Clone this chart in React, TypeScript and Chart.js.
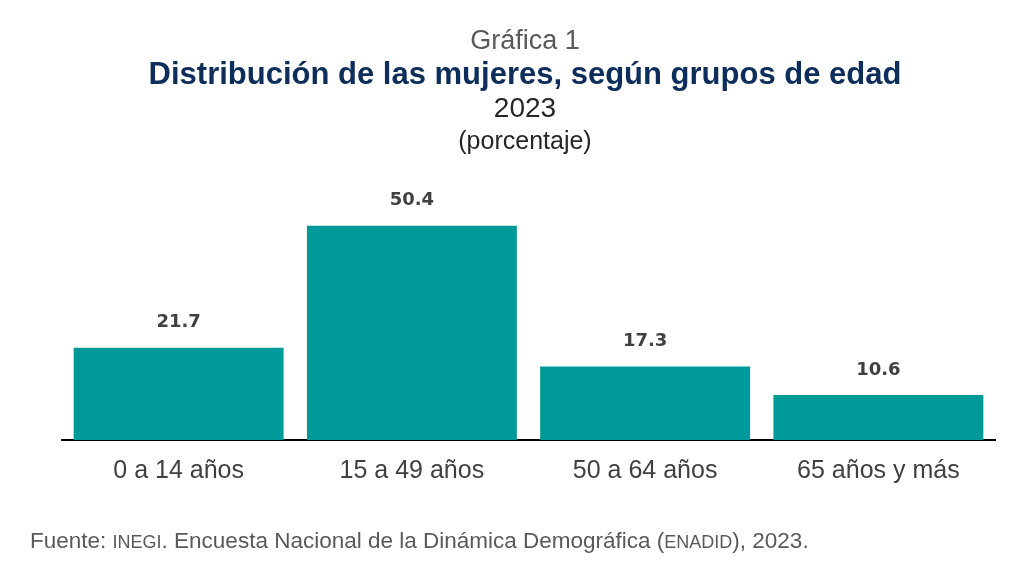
import React, { useEffect, useRef } from "react";
import { Chart, registerables } from "chart.js";

Chart.register(...registerables);

const categories = ["0 a 14 años", "15 a 49 años", "50 a 64 años", "65 años y más"];
const values = [21.7, 50.4, 17.3, 10.6];
const valueLabels = ["21.7", "50.4", "17.3", "10.6"];

const BAR_COLOR = "#009999";

const valueLabelPlugin = {
  id: "valueLabels",
  afterDatasetsDraw(chart: any) {
    const ctx = chart.ctx;
    const meta = chart.getDatasetMeta(0);
    ctx.save();
    ctx.font = "bold 18px 'DejaVu Sans'";
    ctx.fillStyle = "#404040";
    ctx.textAlign = "center";
    ctx.textBaseline = "middle";
    meta.data.forEach((bar: any, i: number) => {
      ctx.fillText(valueLabels[i], bar.x, bar.y - 25);
    });
    ctx.restore();
  },
};

export default function App() {
  const ref = useRef<HTMLCanvasElement | null>(null);

  useEffect(() => {
    if (!ref.current) return;
    const chart = new Chart(ref.current, {
      type: "bar",
      data: {
        labels: categories,
        datasets: [
          {
            data: values,
            backgroundColor: BAR_COLOR,
            borderWidth: 0,
            barPercentage: 0.9,
            categoryPercentage: 1,
          },
        ],
      },
      options: {
        animation: false,
        responsive: false,
        maintainAspectRatio: false,
        layout: { padding: { left: 62, right: 29, top: 185, bottom: 82 } },
        plugins: {
          legend: { display: false },
          tooltip: { enabled: false },
          title: { display: false },
        },
        scales: {
          x: {
            grid: { display: false },
            border: { display: true, color: "#000000", width: 2 },
            ticks: {
              color: "#404040",
              font: { family: "'Liberation Sans', Arial, sans-serif", size: 25 },
              padding: 8,
              maxRotation: 0,
            },
          },
          y: {
            display: false,
            min: 0,
            max: 60,
          },
        },
      },
      plugins: [valueLabelPlugin],
    });
    return () => chart.destroy();
  }, []);

  const base: React.CSSProperties = {
    position: "absolute",
    left: 0,
    width: 1050,
    textAlign: "center",
    fontFamily: "'Liberation Sans', Arial, sans-serif",
    whiteSpace: "nowrap",
  };

  return (
    <div style={{ position: "fixed", left: 0, top: 0, width: 1024, height: 576, background: "#ffffff", overflow: "hidden" }}>
      <canvas ref={ref} width={1024} height={576} style={{ position: "absolute", left: 0, top: 0, width: 1024, height: 576 }} />
      <div style={{ ...base, top: 23, height: 34, lineHeight: "34px", fontSize: 27, color: "#595959" }}>Gráfica 1</div>
      <div style={{ ...base, top: 57, height: 34, lineHeight: "34px", fontSize: 31, fontWeight: "bold", color: "#0d2d5a" }}>
        Distribución de las mujeres, según grupos de edad
      </div>
      <div style={{ ...base, top: 91, height: 34, lineHeight: "34px", fontSize: 28, color: "#262626" }}>2023</div>
      <div style={{ ...base, top: 125, height: 30, lineHeight: "30px", fontSize: 25, color: "#262626" }}>(porcentaje)</div>
      <div
        style={{
          position: "absolute",
          left: 30,
          top: 527,
          height: 28,
          lineHeight: "28px",
          fontSize: 22.5,
          color: "#595959",
          fontFamily: "'Liberation Sans', Arial, sans-serif",
          whiteSpace: "nowrap",
        }}
      >
        Fuente: <span style={{ fontSize: 18 }}>INEGI</span>. Encuesta Nacional de la Dinámica Demográfica (
        <span style={{ fontSize: 18 }}>ENADID</span>), 2023.
      </div>
    </div>
  );
}
